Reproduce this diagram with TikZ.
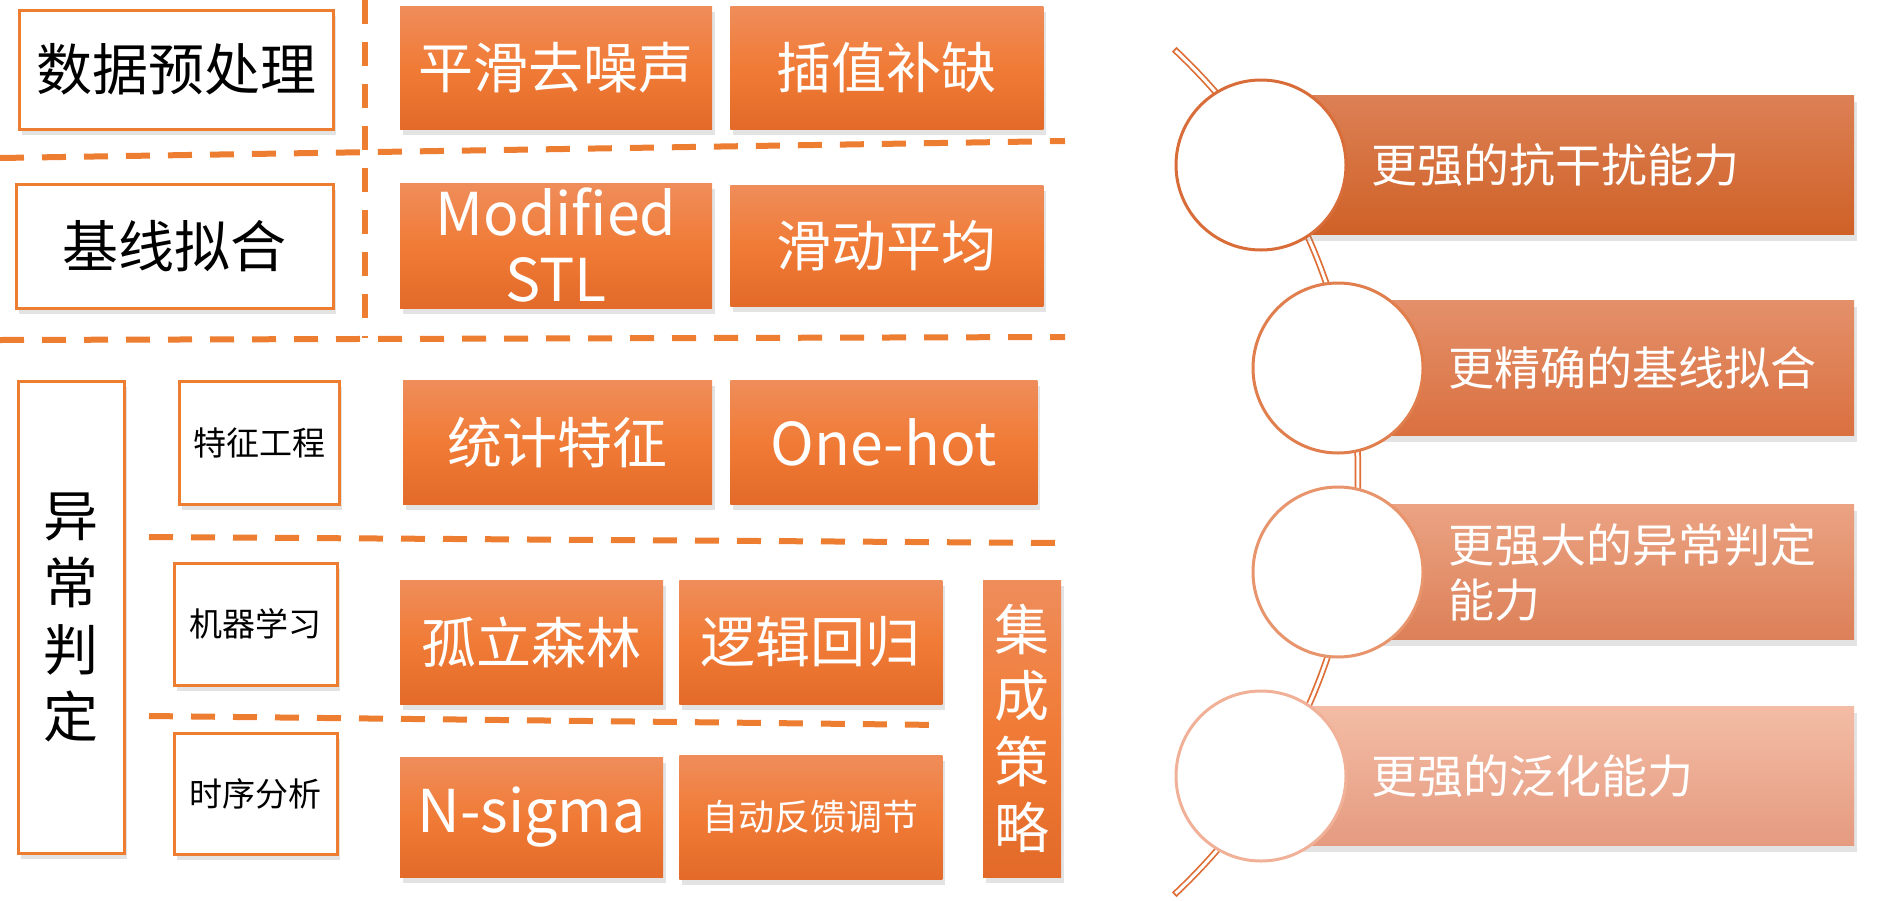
\documentclass[tikz,border=0pt]{standalone}
\usepackage{fontspec}
\setmainfont{Noto Sans CJK SC}
\usepackage{tikz}
\usetikzlibrary{positioning,shadows}

\definecolor{hlorange}{HTML}{ED7D31}
\definecolor{hltop}{HTML}{EF8D5B}
\definecolor{hlmid}{HTML}{F07B36}
\definecolor{hlbot}{HTML}{E36A29}
\definecolor{spineorange}{HTML}{DE6E36}
\definecolor{meritatop}{HTML}{DC8055}
\definecolor{meritabot}{HTML}{CF6127}
\definecolor{meritbtop}{HTML}{E4906A}
\definecolor{meritbbot}{HTML}{DA7040}
\definecolor{meritctop}{HTML}{EBA383}
\definecolor{meritcbot}{HTML}{DC8058}
\definecolor{meritdtop}{HTML}{F3BCA5}
\definecolor{meritdbot}{HTML}{E59B80}
\definecolor{ringa}{HTML}{D96D3A}
\definecolor{ringb}{HTML}{E07E4E}
\definecolor{ringc}{HTML}{E8946D}
\definecolor{ringd}{HTML}{F1B198}

\begin{document}
\begin{tikzpicture}[x=1pt, y=-1pt, node distance=18pt]
    \tikzstyle{lift}=[drop shadow={opacity=0.22, shadow xshift=3pt, shadow yshift=-6pt}]
    \tikzstyle{stage}=[draw=hlorange, line width=3pt, fill=white, inner sep=0pt,
                       align=center, lift, font=\fontsize{56}{66}\selectfont]
    \tikzstyle{substage}=[stage, font=\fontsize{33}{40}\selectfont]
    \tikzstyle{method}=[top color=hltop, bottom color=hlbot, middle color=hlmid,
                        text=white, inner sep=0pt, align=center, lift,
                        font=\fontsize{55}{66}\selectfont]
    \tikzstyle{latin}=[font=\fontsize{59}{66}\selectfont]
    \tikzstyle{divider}=[draw=hlorange, line width=6pt, dash pattern=on 24pt off 18pt]
    \tikzstyle{spine}=[draw=spineorange, line width=6.5pt,
                       postaction={draw=white, line width=3pt, shorten <=1.8pt, shorten >=1.8pt}]
    \tikzstyle{merit}=[inner sep=0pt, lift]
    \tikzstyle{ring}=[circle, minimum size=170pt, inner sep=0pt, fill=white, line width=3pt]
    \tikzstyle{gain}=[text=white, inner sep=0pt, align=left, font=\fontsize{46}{55}\selectfont]

    \useasboundingbox (0,0) rectangle (1884,900);

    \draw[divider] (0,158) -- (1065,141);
    \draw[divider] (0,340) -- (1065,337);
    \draw[divider] (365,0) -- (365,338);
    \draw[divider] (149,537) -- (1065,543);
    \draw[divider] (149,716) -- (942,725);

    \node[stage, minimum width=314pt, minimum height=119pt] (pre) at (176,69.5) {数据预处理};
    \node[stage, minimum width=317pt, minimum height=124pt] (base) at (174.5,246) {基线拟合};
    \node[stage, minimum width=106pt, minimum height=472pt,
          font=\fontsize{55}{67}\selectfont] (anom) at (71,617) {异\\常\\判\\定};
    \node[substage, minimum width=160pt, minimum height=123pt] (feat) at (259,442.5) {特征工程};
    \node[substage, minimum width=163pt, minimum height=122pt] (ml) at (255.5,624) {机器学习};
    \node[substage, minimum width=163pt, minimum height=121pt] (ts) at (255.5,793.5) {时序分析};

    \node[method, minimum width=312pt, minimum height=123pt] (smooth) at (556,67.5) {平滑去噪声};
    \node[method, minimum width=313pt, minimum height=123pt, right=of smooth] (gapfill) {插值补缺};
    \node[method, latin, minimum width=312pt, minimum height=125pt] (stl) at (556,245.5) {Modified\\STL};
    \node[method, minimum width=313pt, minimum height=121pt, right=of stl] (mavg) {滑动平均};
    \node[method, minimum width=309pt, minimum height=124pt] (stat) at (557.5,442) {统计特征};
    \node[method, latin, minimum width=307pt, minimum height=124pt, right=of stat] (onehot) {One-hot};
    \node[method, minimum width=263pt, minimum height=124pt] (iforest) at (531.5,642) {孤立森林};
    \node[method, minimum width=263pt, minimum height=124pt, right=16pt of iforest] (logit) {逻辑回归};
    \node[method, latin, minimum width=263pt, minimum height=120pt] (nsigma) at (531.5,817) {N-sigma};
    \node[method, minimum width=263pt, minimum height=124pt, right=16pt of nsigma,
          font=\fontsize{36}{44}\selectfont] (feedback) {自动反馈调节};
    \node[method, minimum width=78pt, minimum height=297pt] (ensemble) at (1022,728.5) {集\\成\\策\\略};

    \draw[spine] plot[domain=-47:47, samples=90] ({780+578*cos(\x)}, {472+578*sin(\x)});

    \coordinate (p1) at (1261,165);
    \coordinate (p2) at (1338,368);
    \coordinate (p3) at (1338,572);
    \coordinate (p4) at (1261,776);

    \node[merit, minimum width=593pt, minimum height=139pt, top color=meritatop,
          bottom color=meritabot, right=0pt of p1] (bar1) {};
    \node[merit, minimum width=516pt, minimum height=135pt, top color=meritbtop,
          bottom color=meritbbot, right=0pt of p2] (bar2) {};
    \node[merit, minimum width=516pt, minimum height=135pt, top color=meritctop,
          bottom color=meritcbot, right=0pt of p3] (bar3) {};
    \node[merit, minimum width=593pt, minimum height=139pt, top color=meritdtop,
          bottom color=meritdbot, right=0pt of p4] (bar4) {};

    \node[ring, draw=ringa] (c1) at (p1) {};
    \node[ring, draw=ringb] (c2) at (p2) {};
    \node[ring, draw=ringc] (c3) at (p3) {};
    \node[ring, draw=ringd] (c4) at (p4) {};

    \node[gain, right=24pt of c1] (t1) {更强的抗干扰能力};
    \node[gain, right=24pt of c2] (t2) {更精确的基线拟合};
    \node[gain, right=24pt of c3] (t3) {更强大的异常判定\\能力};
    \node[gain, right=24pt of c4] (t4) {更强的泛化能力};
\end{tikzpicture}
\end{document}
